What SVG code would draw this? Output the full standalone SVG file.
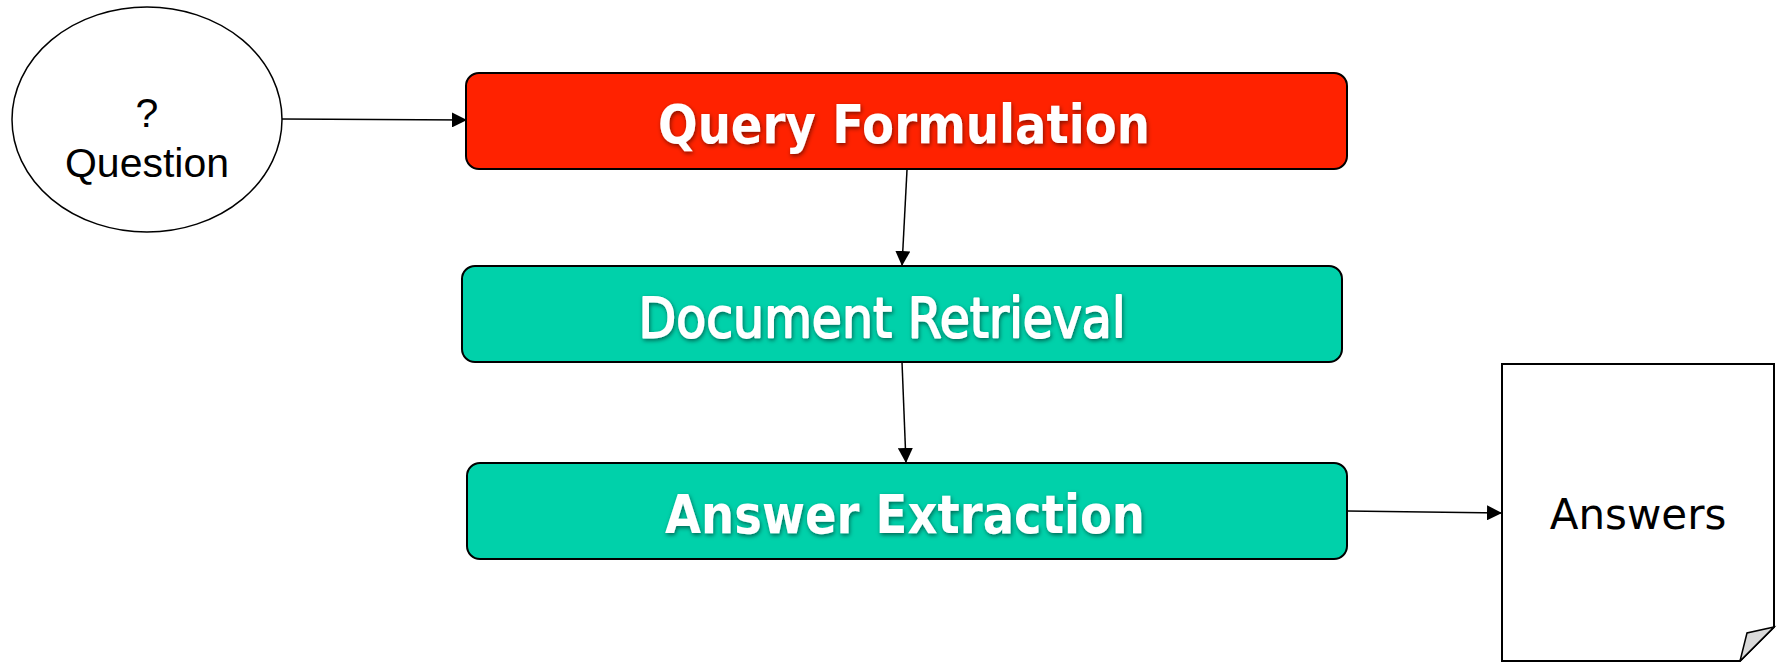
<svg xmlns="http://www.w3.org/2000/svg" width="1783" height="662" viewBox="0 0 1783 662">
<defs>
<marker id="arr" viewBox="0 0 10 10" refX="10" refY="5" markerWidth="15" markerHeight="15" markerUnits="userSpaceOnUse" orient="auto">
<path d="M0,0 L10,5 L0,10 z" fill="#000"/>
</marker>
<filter id="sh" x="-10%" y="-30%" width="120%" height="160%">
<feDropShadow dx="1" dy="2" stdDeviation="2" flood-color="#000" flood-opacity="0.5"/>
</filter>
</defs>
<style>
.box{stroke:#000;stroke-width:2}
.red{fill:#FF2200}
.teal{fill:#00D1AA}
.bt{font-family:"DejaVu Sans",Verdana,sans-serif;font-weight:bold;font-size:54px;fill:#fff;text-anchor:middle}
.rt{font-family:"DejaVu Sans",Verdana,sans-serif;font-weight:normal;font-size:55px;fill:#fff;text-anchor:middle;stroke:#fff;stroke-width:1.8;stroke-linejoin:round}
.conn{stroke:#000;stroke-width:1.5;fill:none;marker-end:url(#arr)}
</style>
<rect width="1783" height="662" fill="#fff"/>
<g id="connectors">
<line class="conn" x1="282" y1="119" x2="467" y2="120"/>
<line class="conn" x1="907" y1="170" x2="902" y2="266"/>
<line class="conn" x1="902" y1="362" x2="906" y2="463"/>
<line class="conn" x1="1347" y1="511" x2="1502" y2="513"/>
</g>
<g id="question">
<ellipse cx="147" cy="119.5" rx="135" ry="112.5" fill="#fff" stroke="#000" stroke-width="1.5"/>
<text x="147" y="127" font-family="Liberation Sans,Arial,sans-serif" font-size="41" text-anchor="middle">?</text>
<text x="147" y="177" font-family="Liberation Sans,Arial,sans-serif" font-size="41" text-anchor="middle">Question</text>
</g>
<g id="query-formulation">
<rect class="box red" x="466" y="73" width="881" height="96" rx="13"/>
<text class="bt" x="904" y="143" textLength="492" lengthAdjust="spacingAndGlyphs" filter="url(#sh)">Query Formulation</text>
</g>
<g id="document-retrieval">
<rect class="box teal" x="462" y="266" width="880" height="96" rx="13"/>
<text class="rt" x="882" y="337" textLength="487" lengthAdjust="spacingAndGlyphs" filter="url(#sh)">Document Retrieval</text>
</g>
<g id="answer-extraction">
<rect class="box teal" x="467" y="463" width="880" height="96" rx="13"/>
<text class="bt" x="905" y="533" textLength="480" lengthAdjust="spacingAndGlyphs" filter="url(#sh)">Answer Extraction</text>
</g>
<g id="answers">
<path d="M1502,364 L1774,364 L1774,627 L1740,661 L1502,661 Z" fill="#fff" stroke="#000" stroke-width="2"/>
<path d="M1774,627 L1747,633 L1740,661 Z" fill="#d9d9d9" stroke="#000" stroke-width="1.5"/>
<text x="1638" y="529" font-family="DejaVu Sans,Verdana,sans-serif" font-size="42" text-anchor="middle">Answers</text>
</g>
</svg>
